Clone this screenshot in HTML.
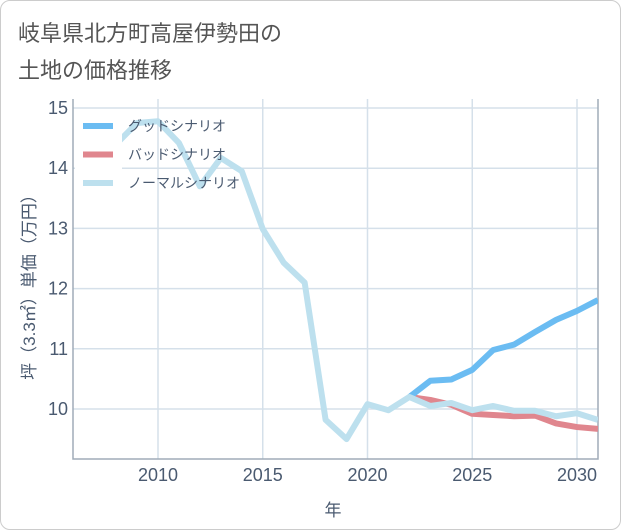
<!DOCTYPE html>
<html><head><meta charset="utf-8"><style>
body{margin:0;background:#fff;}
#wrap{position:relative;width:619px;height:528px;border:1px solid #ccc;border-radius:10px;overflow:hidden;background:#fff;font-family:"Liberation Sans","Noto Sans CJK JP",sans-serif;}
#title{position:absolute;left:17px;top:14px;font-size:22px;line-height:37px;color:#555;}
</style></head><body>
<div id="wrap">
<div id="title">岐阜県北方町高屋伊勢田の<br>土地の価格推移</div>
<svg id="chart" width="621" height="530" style="position:absolute;left:0;top:0"></svg>
</div>
<script>
const years=[2008,2009,2010,2011,2012,2013,2014,2015,2016,2017,2018,2019,2020,2021,2022,2023,2024,2025,2026,2027,2028,2029,2030,2031];
const normal=[14.4,14.75,14.78,14.42,13.7,14.17,13.95,12.99,12.43,12.1,9.82,9.5,10.08,9.98,10.2,10.05,10.1,9.98,10.05,9.97,9.97,9.88,9.93,9.82];
const goodYears=[2022,2023,2024,2025,2026,2027,2028,2029,2030,2031];
const good=[10.2,10.47,10.49,10.65,10.98,11.07,11.28,11.48,11.63,11.81];
const bad=[10.2,10.15,10.07,9.92,9.9,9.88,9.89,9.76,9.7,9.67];
const xTicks=[2010,2015,2020,2025,2030];
const yTicks=[10,11,12,13,14,15];
const NS="http://www.w3.org/2000/svg";
const svg=document.getElementById('chart');
const L=72,R=597,T=98,B=458;
const x=v=>157+(v-2010)*20.95;
const y=v=>408-(v-10)*60.2;
function el(t,a){const e=document.createElementNS(NS,t);for(const k in a)e.setAttribute(k,a[k]);svg.appendChild(e);return e;}
const cp=el('clipPath',{id:'cp'});
const cr=document.createElementNS(NS,'rect');cr.setAttribute('x',L);cr.setAttribute('y',T);cr.setAttribute('width',R-L);cr.setAttribute('height',B-T);cp.appendChild(cr);
yTicks.forEach(v=>{
 const g=el('line',{x1:L,x2:R,y1:y(v),y2:y(v),stroke:'#d5e0ea','stroke-width':1.5});
 
 
 const t=el('text',{x:67,y:y(v)+6,'text-anchor':'end','font-size':18,fill:'#4a5a70'});
 t.textContent=v;
 
 
});
xTicks.forEach(v=>{
 const g=el('line',{x1:x(v),x2:x(v),y1:T,y2:B,stroke:'#d5e0ea','stroke-width':1.5});
 
 
 const t=el('text',{x:x(v),y:480,'text-anchor':'middle','font-size':18,fill:'#4a5a70'});
 t.textContent=v;
 
 
});
const ax=el('path',{d:`M${L},${T} V${B} H${R} V${T}`,fill:'none',stroke:'#a0acb8','stroke-width':1.5});


function line(xs,vs,color,name){
 const p=el('polyline',{points:xs.map((yr,i)=>x(yr)+','+y(vs[i])).join(' '),fill:'none',stroke:color,'stroke-width':6,'stroke-linejoin':'round','clip-path':'url(#cp)'});
 
 
}
line(goodYears,bad,'#e0868e','bad-scenario-line');
line(goodYears,good,'#6bbcf2','good-scenario-line');
line(years,normal,'#bde0ee','normal-scenario-line');
const lg=el('rect',{x:74,y:108,width:47,height:90,fill:'#fff'});


[['グッドシナリオ','#6bbcf2'],['バッドシナリオ','#e0868e'],['ノーマルシナリオ','#bde0ee']].forEach((d,i)=>{
 const yy=125+i*28.5;
 const s=el('line',{x1:82,x2:112,y1:yy,y2:yy,stroke:d[1],'stroke-width':6});
 
 
 const t=el('text',{x:127,y:yy+5,'font-size':14,fill:'#4a5a70'});
 t.textContent=d[0];
 
 
});
const xt=el('text',{x:332,y:515,'text-anchor':'middle','font-size':17,fill:'#4a5a70'});
xt.textContent='年';


const yt=el('text',{x:0,y:0,'text-anchor':'middle','font-size':17,fill:'#4a5a70',transform:'translate(34,282) rotate(-90)'});
yt.textContent='坪（3.3㎡）単価（万円）';


</script>
</body></html>
